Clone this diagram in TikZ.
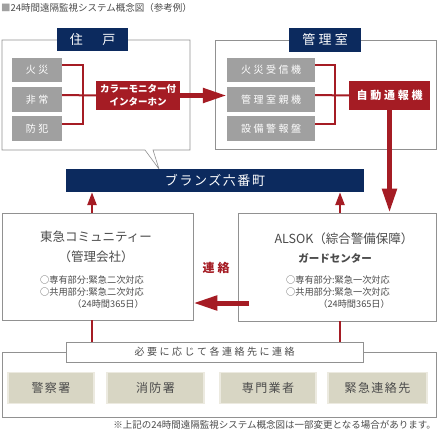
\documentclass[tikz,border=0pt]{standalone}
\usepackage{fontspec}
\setmainfont{Noto Sans CJK JP}
\newfontfamily\jpwide[LetterSpace=25]{Noto Sans CJK JP}
\newfontfamily\jpmid[LetterSpace=12]{Noto Sans CJK JP}
\usepackage{tikz}
\usetikzlibrary{arrows.meta}
\definecolor{navy}{RGB}{12,42,94}
\definecolor{alarmred}{RGB}{165,28,36}
\definecolor{boxgray}{RGB}{160,160,160}
\definecolor{framegray}{RGB}{145,145,145}
\definecolor{stationfill}{RGB}{216,214,196}
\definecolor{stationedge}{RGB}{236,234,224}
\definecolor{textgray}{RGB}{75,75,75}
\tikzset{
    frame/.style={draw=framegray, line width=0.6pt},
    tab/.style={fill=navy, text=white, inner sep=0pt, font=\jpwide\fontsize{13}{13}\selectfont},
    sensor/.style={fill=boxgray, text=white, inner sep=0pt, minimum height=24.5pt,
        font=\jpwide\fontsize{10}{10}\selectfont},
    alarm/.style={fill=alarmred, text=white, inner sep=0pt, minimum height=29pt, align=center,
        font=\bfseries\fontsize{9.5}{12.5}\selectfont},
    link/.style={draw=alarmred, line width=2pt},
    bigarrow/.style={draw=alarmred, line width=5pt, -{Triangle[length=24pt,width=14pt]}},
    smallarrow/.style={draw=alarmred, line width=2.5pt, -{Triangle[length=13pt,width=9pt]}},
    note/.style={text=textgray, inner sep=0pt, align=right, font=\fontsize{9.2}{12.3}\selectfont},
    station/.style={fill=stationfill, draw=stationedge, line width=1.5pt, inner sep=0pt,
        minimum height=31pt, text=textgray, font=\jpmid\fontsize{12}{12}\selectfont}
}
\begin{document}
\begin{tikzpicture}[x=1pt,y=-1pt]
	\path[use as bounding box, fill=white] (0,0) rectangle (438,433);
	\node[anchor=west, inner sep=0pt, text=textgray, font=\fontsize{9.5}{9.5}\selectfont] (title) at (1,8) {{\color{boxgray}■}24時間遠隔監視システム概念図（参考例）};
	% home
	\draw[frame] (2,40) -- (190,40) -- (190,150) -- (153,150) -- (159,169) -- (145,150) -- (2,150) -- cycle;
	\node[tab, minimum width=71pt, minimum height=23pt] (hometab) at (92.5,39.5) {住　戸};
	\node[sensor, minimum width=50pt] (fire) at (37,70) {火災};
	\node[sensor, minimum width=50pt] (emergency) at (37,99.5) {非常};
	\node[sensor, minimum width=50pt] (crime) at (37,128.5) {防犯};
	\node[alarm, minimum width=84pt] (intercom) at (138,95.5) {カラーモニター付\\インターホン};
	\coordinate (homejoin) at (83,95.5);
	\draw[link] ([yshift=4.5pt]fire.east) -| (homejoin) |- ([yshift=4.5pt]crime.east);
	\draw[link] ([yshift=4.5pt]emergency.east) -- (intercom.west);
	% office
	\node[frame, minimum width=221pt, minimum height=109pt] (office) at (325.5,94.5) {};
	\node[tab, minimum width=72pt, minimum height=24pt] (officetab) at (325,40) {管理室};
	\node[sensor, minimum width=88pt] (receiver) at (271,70) {火災受信機};
	\node[sensor, minimum width=88pt] (parent) at (271,99.5) {管理室親機};
	\node[sensor, minimum width=88pt] (panel) at (271,128.5) {設備警報盤};
	\node[alarm, minimum width=81pt, font=\jpwide\bfseries\fontsize{11}{11}\selectfont] (autodial) at (389.5,95.5) {自動通報機};
	\coordinate (officejoin) at (335,95.5);
	\draw[link] ([yshift=4.5pt]receiver.east) -| (officejoin) |- ([yshift=4.5pt]panel.east);
	\draw[link] ([yshift=4.5pt]parent.east) -- (autodial.west);
	\draw[bigarrow] (intercom.east) -- (intercom.east -| parent.west);
	% building
	\node[fill=navy, text=white, inner sep=0pt, minimum width=298pt, minimum height=23pt,
		font=\jpmid\fontsize{13}{13}\selectfont] (bar) at (215,180.5) {ブランズ六番町};
	% centres
	\node[frame, fill=white, minimum width=191pt, minimum height=107pt] (tokyu) at (97.5,266.5) {};
	\node[text=textgray, inner sep=0pt, font=\fontsize{12.5}{12.5}\selectfont] (tokyuname) at (96,237) {東急コミュニティー};
	\node[text=textgray, inner sep=0pt, font=\fontsize{12.5}{12.5}\selectfont] (tokyurole) at (96,257) {（管理会社）};
	\node[note] (tokyunote) at (92,292) {○専有部分:緊急二次対応\\○共用部分:緊急二次対応\\（24時間365日）};
	\node[frame, fill=white, minimum width=198pt, minimum height=108pt] (alsok) at (337,267) {};
	\node[text=textgray, inner sep=0pt, font=\fontsize{12.5}{12.5}\selectfont] (alsokname) at (344,239) {ALSOK（綜合警備保障）};
	\node[text=textgray, inner sep=0pt, font=\bfseries\fontsize{10.5}{10.5}\selectfont] (alsokunit) at (335,258) {ガードセンター};
	\node[note] (alsoknote) at (338,292) {○専有部分:緊急一次対応\\○共用部分:緊急一次対応\\（24時間365日）};
	\coordinate (tokyulink) at (92,0);
	\coordinate (alsoklink) at (340,0);
	\draw[smallarrow] (tokyulink |- tokyu.north) -- (tokyulink |- bar.south);
	\draw[smallarrow] (alsoklink |- alsok.north) -- (alsoklink |- bar.south);
	\draw[bigarrow] (autodial.south) -- (autodial.south |- alsok.north);
	\coordinate (contact) at (249,303);
	\draw[bigarrow] (contact) -- (contact -| tokyu.east);
	\node[text=alarmred, inner sep=0pt, font=\jpwide\bfseries\fontsize{12}{12}\selectfont] (contactlabel) at (216,268) {連絡};
	% contacts
	\node[frame, minimum width=434pt, minimum height=65pt] (outside) at (219,384.5) {};
	\node[frame, fill=white, minimum width=297pt, minimum height=20pt, text=textgray,
		font=\jpwide\fontsize{10}{10}\selectfont] (outsidetab) at (214.5,352) {必要に応じて各連絡先に連絡};
	\draw[link, line width=2.5pt] (tokyulink |- tokyu.south) -- (tokyulink |- outsidetab.north);
	\draw[link, line width=2.5pt] (alsoklink |- alsok.south) -- (alsoklink |- outsidetab.north);
	\node[station, minimum width=86pt] (police) at (51,388) {警察署};
	\node[station, minimum width=97pt] (firedept) at (155.5,388) {消防署};
	\node[station, minimum width=96pt] (contractor) at (268,388) {専門業者};
	\node[station, minimum width=99pt] (relatives) at (377.5,388) {緊急連絡先};
	\node[anchor=east, inner sep=0pt, text=textgray, font=\fontsize{9.5}{9.5}\selectfont] (footnote) at (436,425) {※上記の24時間遠隔監視システム概念図は一部変更となる場合があります。};
\end{tikzpicture}
\end{document}
